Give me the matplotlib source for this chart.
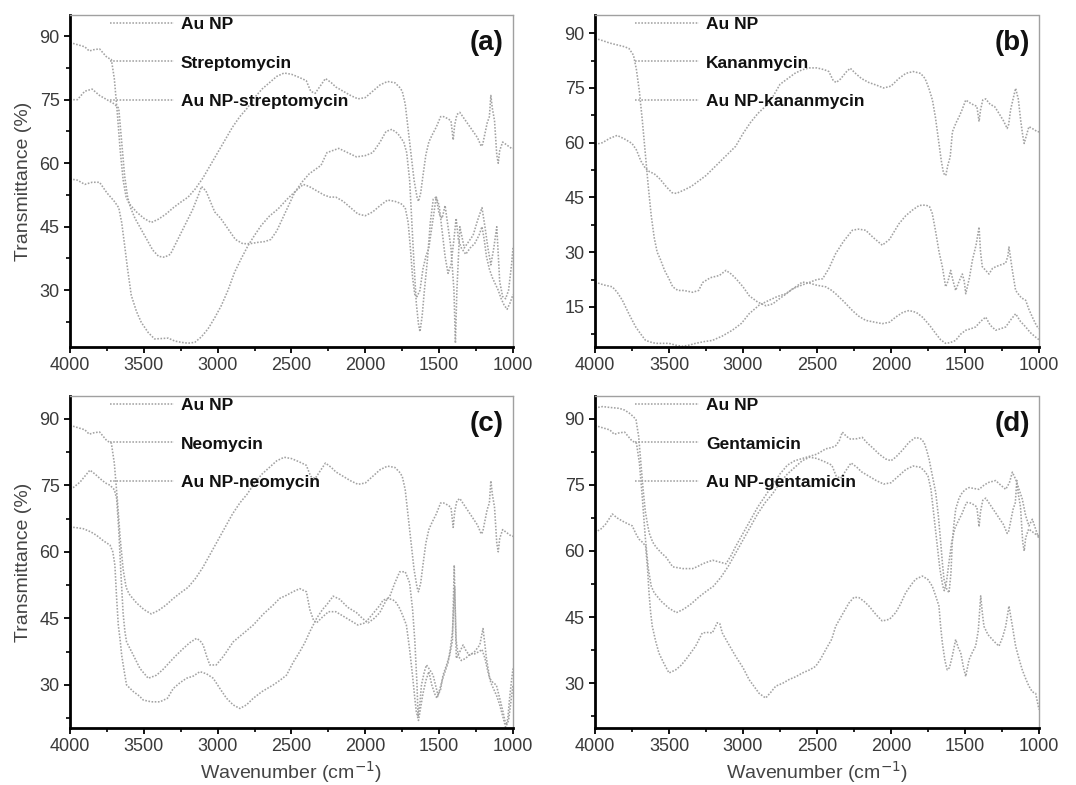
import matplotlib
matplotlib.use("Agg")
import matplotlib.pyplot as plt
from matplotlib.ticker import MultipleLocator

plt.rcParams['font.family'] = ['Liberation Sans', 'DejaVu Sans']

# ---------------- data ----------------
# Au NP (shared in panels a, c, d)
au_np_wn = [4000, 3950, 3900, 3870, 3840, 3800, 3750, 3720, 3700, 3680,
            3660, 3640, 3620, 3600, 3550, 3500, 3450, 3400, 3350, 3300,
            3250, 3200, 3150, 3100, 3050, 3000, 2950, 2900, 2850, 2800,
            2750, 2700, 2650, 2600, 2550, 2500, 2450, 2400, 2370, 2340,
            2300, 2270, 2230, 2200, 2150, 2100, 2050, 2000, 1950, 1900,
            1850, 1800, 1770, 1750, 1730, 1710, 1690, 1670, 1650, 1640,
            1625, 1610, 1590, 1570, 1550, 1520, 1490, 1470, 1440, 1420,
            1405, 1395, 1380, 1360, 1330, 1300, 1270, 1240, 1215, 1205,
            1190, 1175, 1160, 1150, 1140, 1125, 1110, 1100, 1090, 1070,
            1050, 1030, 1010, 1000]
au_np_t = [88.5, 88.0, 87.5, 86.5, 86.8, 87.0, 85.0, 84.5, 80.0, 72.0,
           63.0, 56.0, 52.0, 50.5, 48.5, 47.0, 46.0, 46.8, 48.0, 49.5,
           50.8, 52.0, 54.0, 56.5, 59.5, 62.5, 65.5, 68.5, 71.0, 73.0,
           75.5, 77.5, 79.0, 80.5, 81.3, 81.0, 80.3, 79.5, 77.0, 76.5,
           78.5, 80.0, 79.0, 78.0, 77.0, 76.0, 75.2, 75.5, 77.0, 78.5,
           79.3, 79.0, 78.0, 77.0, 74.0, 68.0, 62.0, 56.0, 52.0, 51.0,
           53.0, 57.0, 62.0, 65.0, 66.5, 68.5, 71.0, 71.0, 70.5, 70.0,
           65.5, 69.0, 71.5, 72.0, 70.5, 69.0, 67.5, 66.0, 64.0, 64.5,
           67.0, 69.5, 71.0, 76.0, 73.0, 70.0, 62.0, 60.0, 63.0, 65.0,
           64.5, 64.0, 63.5, 63.5]

# Panel (a)
strep_wn = [4000, 3950, 3900, 3850, 3800, 3750, 3700, 3670, 3650, 3630,
            3610, 3585, 3550, 3517, 3470, 3427, 3380, 3335, 3290, 3246,
            3200, 3155, 3110, 3065, 3020, 2975, 2930, 2885, 2840, 2795,
            2750, 2705, 2650, 2591, 2530, 2470, 2420, 2380, 2330, 2280,
            2240, 2200, 2150, 2100, 2050, 2000, 1950, 1900, 1850, 1800,
            1760, 1730, 1710, 1695, 1680, 1665, 1650, 1630, 1610, 1590,
            1570, 1545, 1520, 1500, 1480, 1460, 1440, 1420, 1400, 1385,
            1370, 1350, 1320, 1290, 1260, 1230, 1210, 1195, 1180, 1160,
            1140, 1120, 1100, 1080, 1060, 1040, 1020, 1000]
strep_t = [56.3, 56.0, 55.0, 55.5, 55.5, 53.0, 51.0, 49.5, 46.0, 40.6,
           35.0, 28.8, 25.0, 22.4, 20.0, 18.5, 18.6, 18.7, 18.0, 17.7,
           17.5, 17.7, 19.0, 20.9, 23.5, 26.4, 30.0, 34.3, 37.5, 40.5,
           43.0, 45.3, 47.5, 49.2, 51.5, 53.5, 55.0, 54.5, 53.5, 52.5,
           52.0, 52.0, 51.0, 49.5, 48.0, 47.6, 48.5, 50.0, 51.3, 51.0,
           50.5, 49.5, 46.0, 40.0, 33.0, 29.0, 28.5, 30.0, 35.0, 38.0,
           40.0, 46.0, 52.0, 50.0, 44.0, 38.0, 34.0, 36.0, 42.0, 47.0,
           42.0, 40.0, 38.5, 40.0, 41.0, 43.0, 45.0, 42.0, 38.0, 35.0,
           33.0, 31.5, 30.0, 28.0, 26.5, 25.5, 27.0, 29.0]
au_strep_wn = [4000, 3950, 3900, 3850, 3800, 3750, 3700, 3670, 3650, 3630,
               3610, 3590, 3560, 3520, 3480, 3440, 3400, 3360, 3320, 3270,
               3220, 3170, 3130, 3110, 3080, 3050, 3020, 2980, 2930, 2880,
               2830, 2780, 2730, 2680, 2640, 2600, 2560, 2520, 2480, 2430,
               2380, 2340, 2300, 2260, 2220, 2180, 2120, 2060, 2000, 1950,
               1900, 1860, 1820, 1780, 1740, 1720, 1700, 1685, 1670, 1655,
               1640, 1630, 1615, 1600, 1580, 1560, 1540, 1520, 1500, 1480,
               1460, 1440, 1420, 1400, 1390, 1380, 1360, 1330, 1300, 1270,
               1240, 1210, 1190, 1170, 1150, 1130, 1110, 1090, 1070, 1050,
               1030, 1010, 1000]
au_strep_t = [75.0, 75.0, 77.0, 77.5, 76.0, 75.0, 74.0, 73.0, 65.0, 57.0,
              52.0, 49.5, 47.0, 44.5, 42.0, 39.5, 38.0, 37.8, 38.5, 42.0,
              45.5, 49.0, 52.5, 54.5, 53.5, 51.0, 48.5, 47.0, 44.5, 42.0,
              41.0, 41.0, 41.3, 41.5, 42.0, 44.0, 47.0, 50.0, 53.0, 55.5,
              57.5, 58.5, 59.5, 62.5, 63.0, 63.5, 62.5, 61.5, 61.8, 62.5,
              65.0, 67.5, 68.0, 67.0, 65.0, 62.5, 56.0, 46.0, 36.0, 27.0,
              22.0, 20.2, 24.0, 30.0, 37.0, 46.0, 51.5, 52.0, 48.0, 47.0,
              50.0, 45.0, 40.0, 30.0, 17.5, 30.0, 45.0, 40.0, 41.5, 43.0,
              46.5, 49.5, 45.0, 40.0, 36.0, 40.0, 45.0, 32.0, 28.5, 28.0,
              30.0, 36.0, 40.0]

# Panel (b)
b_au_wn = [4000, 3950, 3900, 3850, 3800, 3750, 3720, 3690, 3660, 3630,
           3600, 3560, 3520, 3480, 3450, 3400, 3350, 3300, 3250, 3200,
           3150, 3100, 3050, 3000, 2950, 2900, 2850, 2800, 2750, 2700,
           2650, 2600, 2550, 2500, 2450, 2420, 2390, 2370, 2340, 2300,
           2275, 2240, 2200, 2150, 2100, 2050, 2000, 1950, 1900, 1850,
           1800, 1770, 1745, 1720, 1700, 1680, 1660, 1645, 1630, 1615,
           1600, 1585, 1560, 1540, 1520, 1495, 1470, 1440, 1420, 1405,
           1395, 1380, 1360, 1330, 1300, 1270, 1240, 1215, 1205, 1192,
           1175, 1158, 1140, 1124, 1110, 1100, 1085, 1068, 1050, 1030,
           1010, 1000]
b_au_t = [59.5, 60.0, 61.2, 62.0, 61.0, 59.8, 58.0, 55.0, 53.0, 52.0,
          51.5, 50.0, 48.0, 46.3, 46.1, 47.0, 48.0, 49.5, 51.0, 53.0,
          55.0, 57.0, 59.0, 62.5, 65.5, 68.0, 69.9, 72.5, 76.0, 77.5,
          79.0, 80.0, 80.5, 80.5, 80.0, 79.5, 77.0, 76.5, 77.5, 79.5,
          80.4, 79.0, 77.6, 76.5, 75.8, 75.0, 75.5, 77.5, 79.0, 79.5,
          79.0, 77.6, 75.0, 71.7, 67.0, 61.0, 55.0, 51.6, 51.0, 54.0,
          56.1, 63.0, 65.5, 67.1, 69.0, 71.7, 71.0, 70.3, 70.0, 65.8,
          69.0, 71.7, 72.0, 70.5, 69.9, 68.0, 66.0, 63.9, 65.0, 69.0,
          72.0, 74.9, 72.0, 66.2, 62.0, 59.8, 62.0, 64.4, 64.0, 63.5,
          63.0, 63.0]
kan_wn = [4000, 3950, 3900, 3850, 3800, 3770, 3740, 3720, 3700, 3680,
          3660, 3640, 3620, 3600, 3580, 3560, 3530, 3500, 3475, 3440,
          3400, 3340, 3300, 3272, 3220, 3160, 3115, 3080, 3047, 3000,
          2957, 2900, 2845, 2800, 2755, 2710, 2664, 2600, 2552, 2500,
          2462, 2420, 2374, 2320, 2261, 2220, 2171, 2120, 2059, 2010,
          1946, 1900, 1856, 1810, 1766, 1740, 1721, 1700, 1675, 1653,
          1631, 1615, 1597, 1580, 1563, 1540, 1518, 1505, 1495, 1470,
          1450, 1425, 1405, 1395, 1383, 1360, 1338, 1315, 1293, 1260,
          1225, 1210, 1203, 1180, 1158, 1120, 1090, 1070, 1045, 1025,
          1011, 1000]
kan_t = [88.6, 88.0, 87.3, 86.8, 86.3, 85.8, 84.0, 80.0, 74.0, 66.0,
         57.0, 48.0, 40.0, 34.0, 30.0, 28.2, 25.0, 22.7, 20.5, 19.5,
         19.5, 19.0, 19.5, 21.7, 23.0, 23.6, 25.0, 24.0, 22.7, 20.5,
         18.0, 16.3, 15.3, 15.8, 17.2, 18.5, 20.0, 21.0, 21.7, 22.5,
         22.7, 25.5, 29.6, 33.0, 36.0, 36.3, 36.0, 34.0, 31.9, 33.5,
         37.8, 40.0, 41.5, 42.8, 42.9, 42.5, 40.6, 36.0, 30.0, 26.0,
         20.5, 22.0, 25.0, 22.0, 19.5, 22.0, 24.0, 22.0, 18.6, 23.0,
         27.8, 32.0, 36.9, 30.0, 26.0, 25.0, 24.0, 25.5, 26.0, 26.5,
         27.0, 29.0, 31.4, 25.0, 19.5, 17.5, 16.8, 14.5, 12.2, 10.5,
         9.5, 9.0]
au_kan_wn = [4000, 3940, 3883, 3850, 3815, 3770, 3725, 3690, 3658, 3620,
             3590, 3545, 3500, 3455, 3410, 3365, 3320, 3260, 3207, 3140,
             3072, 3010, 2959, 2890, 2824, 2770, 2712, 2660, 2599, 2550,
             2509, 2470, 2441, 2400, 2374, 2320, 2261, 2220, 2171, 2110,
             2059, 2010, 1968, 1920, 1878, 1830, 1788, 1740, 1698, 1665,
             1631, 1600, 1563, 1530, 1495, 1460, 1428, 1395, 1360, 1330,
             1293, 1260, 1225, 1190, 1158, 1125, 1090, 1060, 1023, 1000]
au_kan_t = [21.8, 21.0, 20.5, 19.0, 16.8, 13.0, 9.5, 7.5, 5.8, 5.3,
            5.0, 5.0, 5.0, 4.5, 4.2, 4.5, 5.0, 5.5, 5.8, 7.0,
            8.6, 10.5, 13.1, 15.5, 16.8, 17.8, 18.6, 20.0, 21.8, 21.5,
            21.0, 20.7, 20.5, 19.5, 18.6, 16.5, 14.0, 12.5, 11.3, 10.8,
            10.4, 10.8, 12.2, 13.5, 14.0, 13.5, 12.2, 10.0, 7.7, 6.0,
            5.0, 5.2, 5.8, 7.5, 8.6, 9.0, 9.5, 11.0, 12.2, 10.0,
            8.6, 9.0, 9.5, 11.5, 13.1, 11.0, 9.5, 8.0, 6.7, 6.0]

# Panel (c)
neo_wn = [4000, 3950, 3910, 3860, 3820, 3775, 3729, 3710, 3696, 3685,
          3673, 3660, 3650, 3630, 3617, 3571, 3530, 3504, 3450, 3391,
          3340, 3301, 3255, 3211, 3165, 3120, 3075, 3030, 2985, 2940,
          2895, 2850, 2805, 2759, 2700, 2624, 2580, 2534, 2490, 2444,
          2410, 2376, 2330, 2290, 2263, 2218, 2173, 2120, 2060, 2020,
          1981, 1940, 1902, 1860, 1834, 1800, 1767, 1730, 1700, 1680,
          1665, 1650, 1643, 1630, 1620, 1600, 1586, 1565, 1541, 1525,
          1508, 1490, 1474, 1450, 1429, 1410, 1398, 1390, 1384, 1360,
          1338, 1315, 1293, 1260, 1225, 1203, 1190, 1180, 1158, 1135,
          1113, 1090, 1068, 1055, 1045, 1035, 1023, 1010, 1000]
neo_t = [65.6, 65.4, 65.2, 64.5, 63.7, 62.5, 61.5, 60.0, 57.0, 50.0,
         43.5, 40.0, 36.7, 32.5, 30.0, 28.5, 27.5, 26.6, 26.2, 26.2,
         27.0, 29.2, 30.5, 31.5, 32.0, 33.0, 32.5, 31.5, 29.2, 27.0,
         25.5, 24.7, 25.5, 27.0, 28.5, 30.0, 31.0, 32.2, 35.0, 37.5,
         39.5, 42.0, 45.0, 47.0, 48.0, 50.0, 49.3, 47.5, 46.3, 45.0,
         44.0, 45.0, 46.3, 49.0, 50.0, 53.0, 55.5, 55.5, 53.0, 47.0,
         40.0, 30.0, 22.9, 26.0, 30.0, 33.0, 34.5, 33.5, 32.2, 30.0,
         27.7, 29.0, 32.2, 34.5, 36.7, 40.0, 57.0, 45.0, 36.0, 37.5,
         39.0, 37.5, 36.7, 37.5, 39.0, 42.7, 39.0, 36.0, 31.5, 30.5,
         30.0, 27.0, 24.0, 22.0, 21.0, 22.5, 27.0, 31.0, 33.7]
au_neo_wn = [4000, 3977, 3932, 3900, 3865, 3830, 3797, 3760, 3729, 3700,
             3684, 3670, 3655, 3640, 3628, 3617, 3571, 3526, 3470, 3414,
             3370, 3323, 3280, 3233, 3190, 3143, 3120, 3098, 3075, 3053,
             3010, 2960, 2895, 2830, 2759, 2690, 2624, 2580, 2534, 2490,
             2444, 2399, 2376, 2350, 2330, 2300, 2250, 2200, 2150, 2100,
             2050, 2000, 1950, 1900, 1880, 1845, 1810, 1790, 1767, 1745,
             1722, 1700, 1680, 1665, 1655, 1640, 1625, 1610, 1590, 1570,
             1550, 1530, 1515, 1500, 1480, 1460, 1440, 1425, 1410, 1395,
             1385, 1370, 1350, 1320, 1290, 1260, 1230, 1210, 1190, 1170,
             1150, 1130, 1110, 1090, 1070, 1050, 1030, 1015, 1000]
au_neo_t = [74.2, 74.5, 75.7, 77.0, 78.4, 77.5, 76.5, 75.5, 75.0, 74.0,
            72.0, 65.0, 55.0, 46.0, 42.0, 39.7, 36.7, 33.7, 31.5, 32.2,
            33.5, 35.2, 36.7, 38.2, 39.5, 40.5, 40.0, 39.0, 36.5, 34.5,
            34.5, 36.5, 39.7, 41.5, 43.5, 46.0, 48.0, 49.5, 50.2, 51.0,
            51.7, 51.0, 47.0, 44.5, 44.0, 45.0, 46.5, 46.5, 45.5, 44.5,
            43.5, 44.0, 46.0, 48.0, 49.1, 49.5, 49.1, 48.5, 47.2, 45.5,
            43.5, 38.0, 32.0, 27.0, 24.0, 22.0, 25.0, 28.0, 31.0, 33.0,
            30.0, 28.0, 27.0, 28.5, 31.0, 33.0, 35.0, 38.0, 42.0, 52.0,
            40.0, 36.5, 35.5, 36.0, 37.0, 37.0, 37.5, 38.0, 36.0, 33.0,
            30.5, 29.0, 27.5, 25.5, 23.0, 20.5, 22.0, 26.0, 30.0]

# Panel (d)
gen_wn = [4000, 3948, 3900, 3836, 3800, 3768, 3740, 3723, 3705, 3690,
          3675, 3660, 3645, 3633, 3610, 3588, 3550, 3520, 3475, 3440,
          3407, 3370, 3340, 3305, 3272, 3240, 3205, 3160, 3115, 3080,
          3050, 3000, 2950, 2900, 2850, 2800, 2750, 2700, 2650, 2600,
          2550, 2500, 2441, 2400, 2374, 2350, 2329, 2300, 2273, 2230,
          2194, 2160, 2126, 2080, 2036, 2000, 1968, 1920, 1878, 1833,
          1800, 1777, 1760, 1743, 1720, 1698, 1680, 1664, 1652, 1642,
          1625, 1608, 1595, 1586, 1575, 1563, 1540, 1518, 1495, 1473,
          1440, 1405, 1370, 1338, 1315, 1293, 1260, 1225, 1200, 1180,
          1158, 1135, 1113, 1090, 1068, 1045, 1023, 1000]
gen_t = [92.5, 92.8, 92.6, 92.4, 92.0, 91.3, 90.5, 89.8, 86.0, 80.0,
         74.0, 69.0, 66.0, 64.0, 62.0, 60.9, 59.5, 58.6, 56.4, 56.2,
         56.0, 56.0, 56.0, 56.5, 57.1, 57.5, 57.9, 57.5, 57.1, 59.0,
         61.0, 64.0, 67.0, 70.0, 72.5, 75.0, 77.5, 79.5, 80.5, 81.0,
         81.5, 82.0, 83.2, 83.5, 83.9, 85.0, 87.0, 86.0, 85.4, 85.5,
         85.8, 84.5, 83.5, 82.0, 80.9, 80.5, 81.3, 83.0, 84.7, 85.8,
         85.5, 84.7, 83.0, 80.9, 77.0, 73.3, 68.0, 61.9, 57.0, 53.6,
         51.5, 50.5, 55.0, 61.9, 66.0, 69.5, 72.0, 73.3, 74.0, 74.4,
         74.2, 74.0, 75.0, 75.6, 75.8, 76.0, 75.0, 74.0, 75.5, 77.9,
         76.3, 74.0, 71.8, 68.0, 65.7, 67.2, 65.0, 62.7]
au_gen_wn = [4000, 3960, 3928, 3883, 3850, 3815, 3780, 3748, 3725, 3703,
             3680, 3658, 3645, 3635, 3624, 3613, 3590, 3568, 3535, 3500,
             3455, 3420, 3387, 3350, 3320, 3275, 3240, 3207, 3174, 3157,
             3140, 3100, 3050, 3000, 2959, 2920, 2892, 2847, 2810, 2779,
             2730, 2689, 2640, 2599, 2550, 2509, 2475, 2441, 2400, 2374,
             2330, 2284, 2250, 2216, 2180, 2149, 2100, 2059, 2010, 1968,
             1935, 1901, 1860, 1833, 1788, 1750, 1721, 1700, 1676, 1665,
             1653, 1635, 1620, 1605, 1586, 1563, 1545, 1529, 1510, 1495,
             1473, 1450, 1428, 1410, 1394, 1383, 1372, 1345, 1315, 1290,
             1270, 1245, 1225, 1203, 1180, 1158, 1135, 1113, 1090, 1068,
             1045, 1023, 1000]
au_gen_t = [64.2, 65.0, 66.1, 68.4, 67.5, 66.8, 66.2, 65.7, 64.0, 62.7,
            62.0, 61.1, 56.0, 50.5, 46.0, 42.9, 39.5, 36.8, 34.5, 32.3,
            33.0, 34.0, 35.3, 37.0, 38.4, 41.4, 41.5, 41.4, 43.7, 43.5,
            41.4, 39.0, 36.1, 33.5, 30.8, 29.0, 27.7, 26.6, 28.0, 29.3,
            30.0, 30.8, 31.5, 32.3, 33.0, 33.8, 35.5, 37.6, 40.0, 42.9,
            45.5, 48.2, 49.5, 49.4, 48.5, 47.5, 45.5, 44.1, 44.5, 46.0,
            48.0, 50.5, 52.5, 53.6, 54.3, 53.5, 52.0, 50.0, 47.5, 43.0,
            39.1, 35.0, 33.0, 33.5, 36.1, 39.9, 38.0, 36.9, 33.5, 31.5,
            35.3, 37.0, 38.4, 42.0, 49.8, 46.0, 42.9, 41.0, 39.9, 39.0,
            38.4, 40.5, 42.9, 47.5, 43.0, 38.4, 35.5, 33.0, 31.0, 29.3,
            28.0, 27.7, 24.0]

panel_tags = ['(a)', '(b)', '(c)', '(d)']
panel_labels = [['Au NP', 'Streptomycin', 'Au NP-streptomycin'],
                ['Au NP', 'Kananmycin', 'Au NP-kananmycin'],
                ['Au NP', 'Neomycin', 'Au NP-neomycin'],
                ['Au NP', 'Gentamicin', 'Au NP-gentamicin']]
panel_series = [[(au_np_wn, au_np_t), (strep_wn, strep_t), (au_strep_wn, au_strep_t)],
                [(b_au_wn, b_au_t), (kan_wn, kan_t), (au_kan_wn, au_kan_t)],
                [(au_np_wn, au_np_t), (neo_wn, neo_t), (au_neo_wn, au_neo_t)],
                [(au_np_wn, au_np_t), (gen_wn, gen_t), (au_gen_wn, au_gen_t)]]
panel_ylim = [(16.6, 95.0), (4.0, 95.0), (20.3, 95.1), (19.8, 95.2)]
panel_yticks = [[30, 45, 60, 75, 90], [15, 30, 45, 60, 75, 90],
                [30, 45, 60, 75, 90], [30, 45, 60, 75, 90]]

# ---------------- figure ----------------
W, H = 1076, 785
fig = plt.figure(figsize=(W / 100, H / 100), dpi=100)
boxes_px = [(70, 15, 513, 347), (595, 15, 1039, 347),
            (70, 396, 513, 728), (595, 396, 1039, 728)]

line_color = '#a2a2a2'
dot = (0, (1, 1))

for i, (l, t, r, b) in enumerate(boxes_px):
    ax = fig.add_axes([l / W, 1 - b / H, (r - l) / W, (b - t) / H])
    handles = []
    for (wn, tr), lab in zip(panel_series[i], panel_labels[i]):
        h, = ax.plot(wn, tr, color=line_color, linestyle=dot, lw=1.15, label=lab)
        handles.append(h)
    ax.set_xlim(4000, 1000)
    ax.set_ylim(*panel_ylim[i])
    ax.set_xticks([4000, 3500, 3000, 2500, 2000, 1500, 1000])
    ax.xaxis.set_minor_locator(MultipleLocator(250))
    ax.set_yticks(panel_yticks[i])
    ax.yaxis.set_minor_locator(MultipleLocator(7.5))
    ax.tick_params(axis='both', which='major', direction='out', length=4,
                   width=1.3, labelsize=13, labelcolor='#3a3a3a', color='black')
    ax.tick_params(axis='both', which='minor', direction='out', length=3,
                   width=1.2, color='black')
    ax.tick_params(axis='x', pad=3)
    for s in ['left', 'bottom']:
        ax.spines[s].set_linewidth(2.0)
        ax.spines[s].set_color('black')
    for s in ['top', 'right']:
        ax.spines[s].set_linewidth(1.0)
        ax.spines[s].set_color('#a0a0a0')
        ax.spines[s].set_linestyle(dot)
    leg = ax.legend(handles=handles, loc='upper left', bbox_to_anchor=(0.09, 0.993),
                    frameon=False, borderpad=0, borderaxespad=0,
                    handlelength=3.7, handletextpad=0.4, labelspacing=1.32,
                    prop={'weight': 'bold', 'size': 12.5})
    for txt in leg.get_texts():
        txt.set_color('#111111')
    ax.text(0.94, 0.915, panel_tags[i], transform=ax.transAxes, ha='center',
            va='center', fontsize=20, fontweight='bold', color='#111111')
    if i in (0, 2):
        ax.set_ylabel('Transmittance (%)', fontsize=14, color='#444444', labelpad=5)
    if i in (2, 3):
        ax.set_xlabel('Wavenumber (cm$^{-1}$)', fontsize=14, color='#444444', labelpad=3)

fig.savefig('out.png', dpi=100)
